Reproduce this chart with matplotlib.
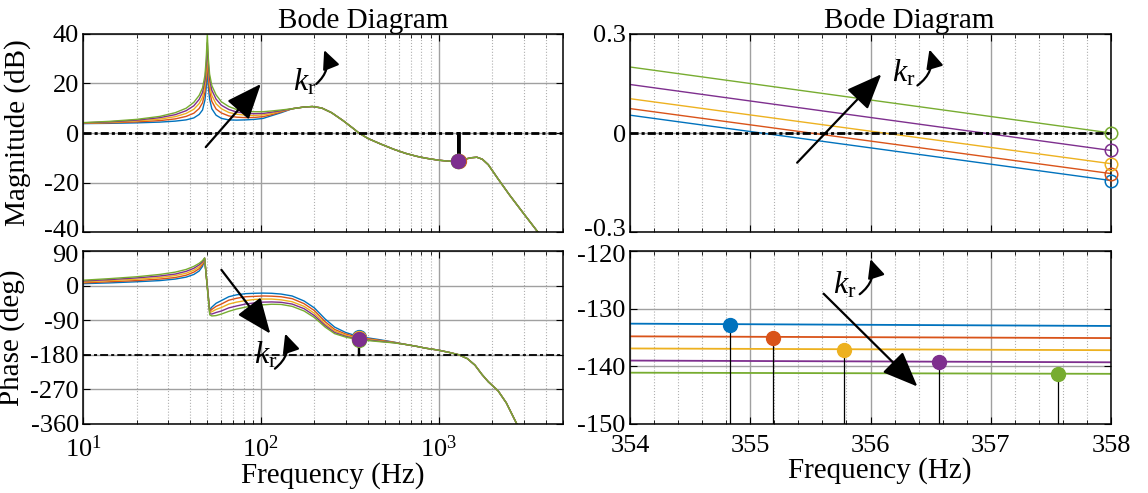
import numpy as np
import matplotlib
matplotlib.use('Agg')
import matplotlib.pyplot as plt
from matplotlib.ticker import LogLocator, MultipleLocator, FixedLocator, NullFormatter
from matplotlib.transforms import ScaledTranslation

plt.rcParams['font.family'] = ['Liberation Serif', 'DejaVu Serif']
plt.rcParams['mathtext.fontset'] = 'custom'
plt.rcParams['mathtext.rm'] = 'Liberation Serif'
plt.rcParams['mathtext.it'] = 'Liberation Serif:italic'
plt.rcParams['axes.unicode_minus'] = False

# ---------------- data ----------------
colors = ['#0072BD', '#D95319', '#EDB120', '#7E2F8E', '#77AC30']   # kr increasing

# magnitude, low-frequency part (differs per kr)
mag_f_low = [10, 14, 20, 27, 33, 38, 42, 45, 47, 48.5, 49.3, 50, 50.7, 51.5, 53, 56, 60, 66, 73, 82, 92, 103, 115, 130]
mag_kr1 = [3.8, 3.9, 4.1, 4.4, 4.8, 5.3, 6.1, 7.5, 9.3, 13.3, 18.3, 27.0, 18.3, 13.8, 9.8, 7.2, 5.9, 5.3, 5.2, 5.3, 5.5, 5.9, 7.0, 8.2]
mag_kr2 = [3.9, 4.1, 4.5, 5.0, 5.7, 6.7, 8.0, 9.9, 12.2, 16.5, 22.0, 30.5, 22.0, 17.0, 12.8, 9.7, 8.1, 6.9, 6.4, 6.2, 6.3, 6.6, 7.4, 8.5]
mag_kr3 = [4.0, 4.3, 4.9, 5.6, 6.6, 7.9, 9.6, 11.9, 14.4, 19.2, 25.0, 33.5, 25.0, 19.7, 15.2, 11.8, 9.8, 8.3, 7.6, 7.2, 7.1, 7.3, 7.9, 8.8]
mag_kr4 = [4.1, 4.5, 5.2, 6.2, 7.4, 9.0, 11.0, 13.6, 16.4, 21.3, 27.5, 36.5, 27.5, 21.8, 17.3, 13.7, 11.2, 9.5, 8.5, 8.0, 7.8, 7.9, 8.4, 9.0]
mag_kr5 = [4.2, 4.7, 5.5, 6.7, 8.2, 10.0, 12.4, 15.2, 18.2, 23.3, 30.0, 40.0, 30.0, 23.8, 19.2, 15.4, 12.6, 10.7, 9.5, 8.8, 8.6, 8.6, 8.9, 9.3]
# magnitude, high-frequency part (common to all kr)
mag_f_high = [150, 175, 195, 220, 250, 290, 330, 356, 400, 470, 560, 650, 750, 850, 1000, 1150, 1286, 1400,
              1520, 1640, 1760, 1900, 2160, 2500, 3000, 3700, 4300, 5000]
mag_high = [9.8, 10.5, 10.7, 10.1, 8.2, 5.0, 1.9, 0.0, -2.2, -4.4, -6.6, -8.2, -9.4, -10.2, -11.0, -11.4, -11.3, -10.6,
            -10.0, -9.8, -10.6, -12.8, -18.6, -25.0, -32.5, -41.0, -47.0, -53.0]

# phase, low/mid-frequency part (differs per kr)
ph_f_low = [10, 14, 20, 27, 33, 38, 42, 45, 47, 48.3, 51.6, 53, 56, 60, 66, 73, 82, 92, 103, 115, 130, 150, 175,
            200, 230, 260, 300, 330, 356, 400, 470, 560]
ph_kr1 = [5, 7, 10, 13, 17, 22, 29, 38, 50, 68, -64, -56, -46, -39, -29, -24, -21, -20, -19.5, -20, -22, -27, -40,
          -58, -87, -108, -122, -128, -132.8, -136, -141, -147]
ph_kr2 = [7, 10, 13, 17, 21, 27, 35, 44, 55, 70, -67, -62, -54, -48, -38, -33, -29, -28, -27, -27.5, -29, -34, -47,
          -65, -94, -114, -126, -131, -134.9, -138, -142.5, -147.5]
ph_kr3 = [9.5, 13, 16.5, 21, 26, 32, 40, 49, 59, 71, -70, -68, -62, -57, -48, -43, -39, -36, -35, -35, -37, -42, -54,
          -72, -100, -118, -129, -134, -137, -139.5, -144, -148]
ph_kr4 = [12, 15.5, 20, 25, 30, 37, 45, 54, 62, 71.5, -73, -74, -70, -66, -58, -53, -48, -45, -43, -42.5, -43.5, -48,
          -60, -78, -104, -122, -132, -136.5, -139.1, -141.5, -145, -148.5]
ph_kr5 = [14, 18, 23, 29, 35, 42, 50, 58, 65, 72, -76, -79, -78, -74, -67, -61, -56, -52, -50, -48.5, -49, -54, -66,
          -83, -108, -125, -134, -138, -141.2, -143, -146, -149]
# phase, high-frequency part (common)
ph_f_high = [650, 750, 850, 1000, 1150, 1300, 1450, 1600, 1750, 1900, 2160, 2400, 2750, 3100, 3600]
ph_high = [-153, -158, -163, -168, -174, -180, -190, -207, -231, -250, -274, -305, -360, -395, -430]

# gain-margin points (left magnitude) and phase-margin points
gm_freq = [1284, 1300, 1286, 1286, 1286]
gm_db = [-11.3, -11.3, -11.3, -11.3, -11.3]
pm_freq = [354.83, 355.19, 355.78, 356.57, 357.56]
pm_deg = [-132.8, -135.0, -137.1, -139.2, -141.3]

# zoomed panels (354-358 Hz)
zoom_f = [354, 358]
zoom_mag = [[0.054, -0.144], [0.074, -0.123], [0.104, -0.093], [0.147, -0.053], [0.200, 0.000]]
zoom_ph = [[-132.6, -133.0], [-134.8, -135.1], [-136.9, -137.2], [-139.0, -139.3], [-141.1, -141.3]]

mag_low = [mag_kr1, mag_kr2, mag_kr3, mag_kr4, mag_kr5]
ph_low = [ph_kr1, ph_kr2, ph_kr3, ph_kr4, ph_kr5]

# ---------------- figure ----------------
W, H = 1148, 493
fig = plt.figure(figsize=(W / 100, H / 100), dpi=100)


def rect(x0, y0, x1, y1):
    return [x0 / W, 1 - y1 / H, (x1 - x0) / W, (y1 - y0) / H]


ax_m = fig.add_axes(rect(83, 34, 563, 232))
ax_p = fig.add_axes(rect(83, 251, 563, 424))
ax_zm = fig.add_axes(rect(630, 34, 1111, 232))
ax_zp = fig.add_axes(rect(630, 251, 1111, 424))

TICK = 19
LAB = 21
grid_major = dict(color='#a0a0a0', ls='-', lw=1.0)
grid_minor = dict(color='#b0b0b0', ls=':', lw=0.8)


def style(ax):
    ax.tick_params(which='both', direction='in', top=True, right=True, labelsize=TICK, pad=3)
    ax.tick_params(which='major', length=5, width=0.8)
    ax.tick_params(which='minor', length=3, width=0.6)
    ax.tick_params(axis='x', which='both', pad=8)
    for s in ax.spines.values():
        s.set_linewidth(1.1)
    ax.set_axisbelow(True)


for ax in (ax_m, ax_p):
    ax.set_xscale('log')
    ax.set_xlim(10, 5000)
    ax.xaxis.set_major_locator(LogLocator(base=10, numticks=10))
    ax.xaxis.set_minor_locator(LogLocator(base=10, subs=np.arange(2, 10), numticks=20))
    ax.xaxis.set_minor_formatter(NullFormatter())
    ax.grid(True, which='major', **grid_major)
    ax.grid(True, which='minor', axis='x', **grid_minor)
    style(ax)

for ax in (ax_zm, ax_zp):
    ax.set_xlim(354, 358)
    ax.xaxis.set_major_locator(MultipleLocator(1))
    ax.xaxis.set_minor_locator(MultipleLocator(0.2))
    ax.grid(True, which='major', **grid_major)
    ax.grid(True, which='minor', axis='x', **grid_minor)
    style(ax)

# ---- left magnitude ----
for c, ml in zip(colors, mag_low):
    ax_m.plot(mag_f_low + mag_f_high, ml + mag_high, color=c, lw=1.0)
ax_m.axhline(0, color='k', lw=2.0, ls=(0, (2.9, 1.1, 1.1, 1.1)))
for f, m in zip(gm_freq, gm_db):
    ax_m.plot([f, f], [0, m], color='k', lw=2.0, zorder=4)
for i in [0, 1, 2, 4, 3]:
    ax_m.plot(gm_freq[i], gm_db[i], 'o', color=colors[i], ms=10, zorder=5)
ax_m.set_ylim(-40, 40)
ax_m.yaxis.set_major_locator(FixedLocator([-40, -20, 0, 20, 40]))
ax_m.set_xticklabels([])
ax_m.set_ylabel('Magnitude (dB)', fontsize=LAB, labelpad=9)
ax_m.set_title('Bode Diagram', fontsize=LAB, pad=3, x=0.583)

# ---- left phase ----
for c, pl in zip(colors, ph_low):
    ax_p.plot(ph_f_low + ph_f_high, pl + ph_high, color=c, lw=1.0)
ax_p.axhline(-180, color='k', lw=1.3, ls=(0, (4.4, 1.7, 1.7, 1.7)))
for f, p in zip(pm_freq, pm_deg):
    ax_p.plot([f, f], [-180, p], color='k', lw=1.5, zorder=4)
for i in [0, 1, 2, 4, 3]:
    ax_p.plot(pm_freq[i], pm_deg[i], 'o', color=colors[i], ms=10, zorder=5)
ax_p.set_ylim(-360, 90)
ax_p.yaxis.set_major_locator(FixedLocator([-360, -270, -180, -90, 0, 90]))
ax_p.set_ylabel('Phase (deg)', fontsize=LAB, labelpad=4)
ax_p.set_xlabel('Frequency (Hz)', fontsize=LAB, labelpad=0, x=0.52)

# ---- right magnitude (zoom) ----
for c, zm in zip(colors, zoom_mag):
    ax_zm.plot(zoom_f, zm, color=c, lw=1.0)
    ax_zm.plot(zoom_f[-1], zm[-1], 'o', mfc='none', mec=c, ms=9, mew=1.1, clip_on=False, zorder=5)
ax_zm.axhline(0, color='k', lw=2.0, ls=(0, (2.9, 1.1, 1.1, 1.1)))
ax_zm.set_ylim(-0.3, 0.3)
ax_zm.yaxis.set_major_locator(FixedLocator([-0.3, 0, 0.3]))
ax_zm.set_yticklabels(['-0.3', '0', '0.3'])
ax_zm.set_xticklabels([])
ax_zm.set_title('Bode Diagram', fontsize=LAB, pad=3, x=0.58)

# ---- right phase (zoom) ----
for c, zp in zip(colors, zoom_ph):
    ax_zp.plot(zoom_f, zp, color=c, lw=1.3)
for c, f, p in zip(colors, pm_freq, pm_deg):
    ax_zp.plot([f, f], [-150, p], color='k', lw=0.9, zorder=4)
    ax_zp.plot(f, p, 'o', color=c, ms=10, zorder=5)
ax_zp.set_ylim(-150, -120)
ax_zp.yaxis.set_major_locator(FixedLocator([-150, -140, -130, -120]))
ax_zp.set_xlabel('Frequency (Hz)', fontsize=LAB, labelpad=0, x=0.52)

# nudge the touching tick labels between stacked panels apart (as in the reference)
def nudge(ax, idx, dy_px):
    t = ax.yaxis.get_major_ticks()[idx]
    t.label1.set_transform(t.label1.get_transform() + ScaledTranslation(0, dy_px / 100, fig.dpi_scale_trans))


nudge(ax_m, 0, 4)
nudge(ax_p, 5, -3)
nudge(ax_zm, 0, 4)
nudge(ax_zp, 3, -3)

# ---- annotations (kr arrows) ----
big = dict(arrowstyle='-|>,head_length=1.1,head_width=0.45', color='k', lw=1.6,
           mutation_scale=20, shrinkA=0, shrinkB=0)
curv = dict(arrowstyle='-|>,head_length=0.75,head_width=0.35', color='k', lw=1.6,
            mutation_scale=15, shrinkA=0, shrinkB=0, connectionstyle='arc3,rad=0.35')
kr = r'$k_\mathrm{r}$'
KR = 23

ax_m.annotate('', xy=(100, 19.8), xytext=(49, -5.7), arrowprops=big)
ax_m.text(152, 17.0, kr, fontsize=KR, ha='left', va='baseline')
ax_m.annotate('', xy=(227, 33.5), xytext=(205, 19.8), arrowprops=curv)

ax_p.annotate('', xy=(113, -125), xytext=(60, 41), arrowprops=big)
ax_p.text(91, -203, kr, fontsize=KR, ha='left', va='baseline')
ax_p.annotate('', xy=(137, -125), xytext=(120, -216), arrowprops=curv)

ax_zm.annotate('', xy=(356.09, 0.178), xytext=(355.39, -0.09), arrowprops=big)
ax_zm.text(356.18, 0.155, kr, fontsize=KR, ha='left', va='baseline')
ax_zm.annotate('', xy=(356.49, 0.253), xytext=(356.39, 0.144), arrowprops=curv)

ax_zp.annotate('', xy=(356.39, -143.5), xytext=(355.61, -127.4), arrowprops=big)
ax_zp.text(355.69, -127.4, kr, fontsize=KR, ha='left', va='baseline')
ax_zp.annotate('', xy=(356.0, -121.4), xytext=(355.91, -127.5), arrowprops=curv)

fig.savefig('out.png', dpi=100)
